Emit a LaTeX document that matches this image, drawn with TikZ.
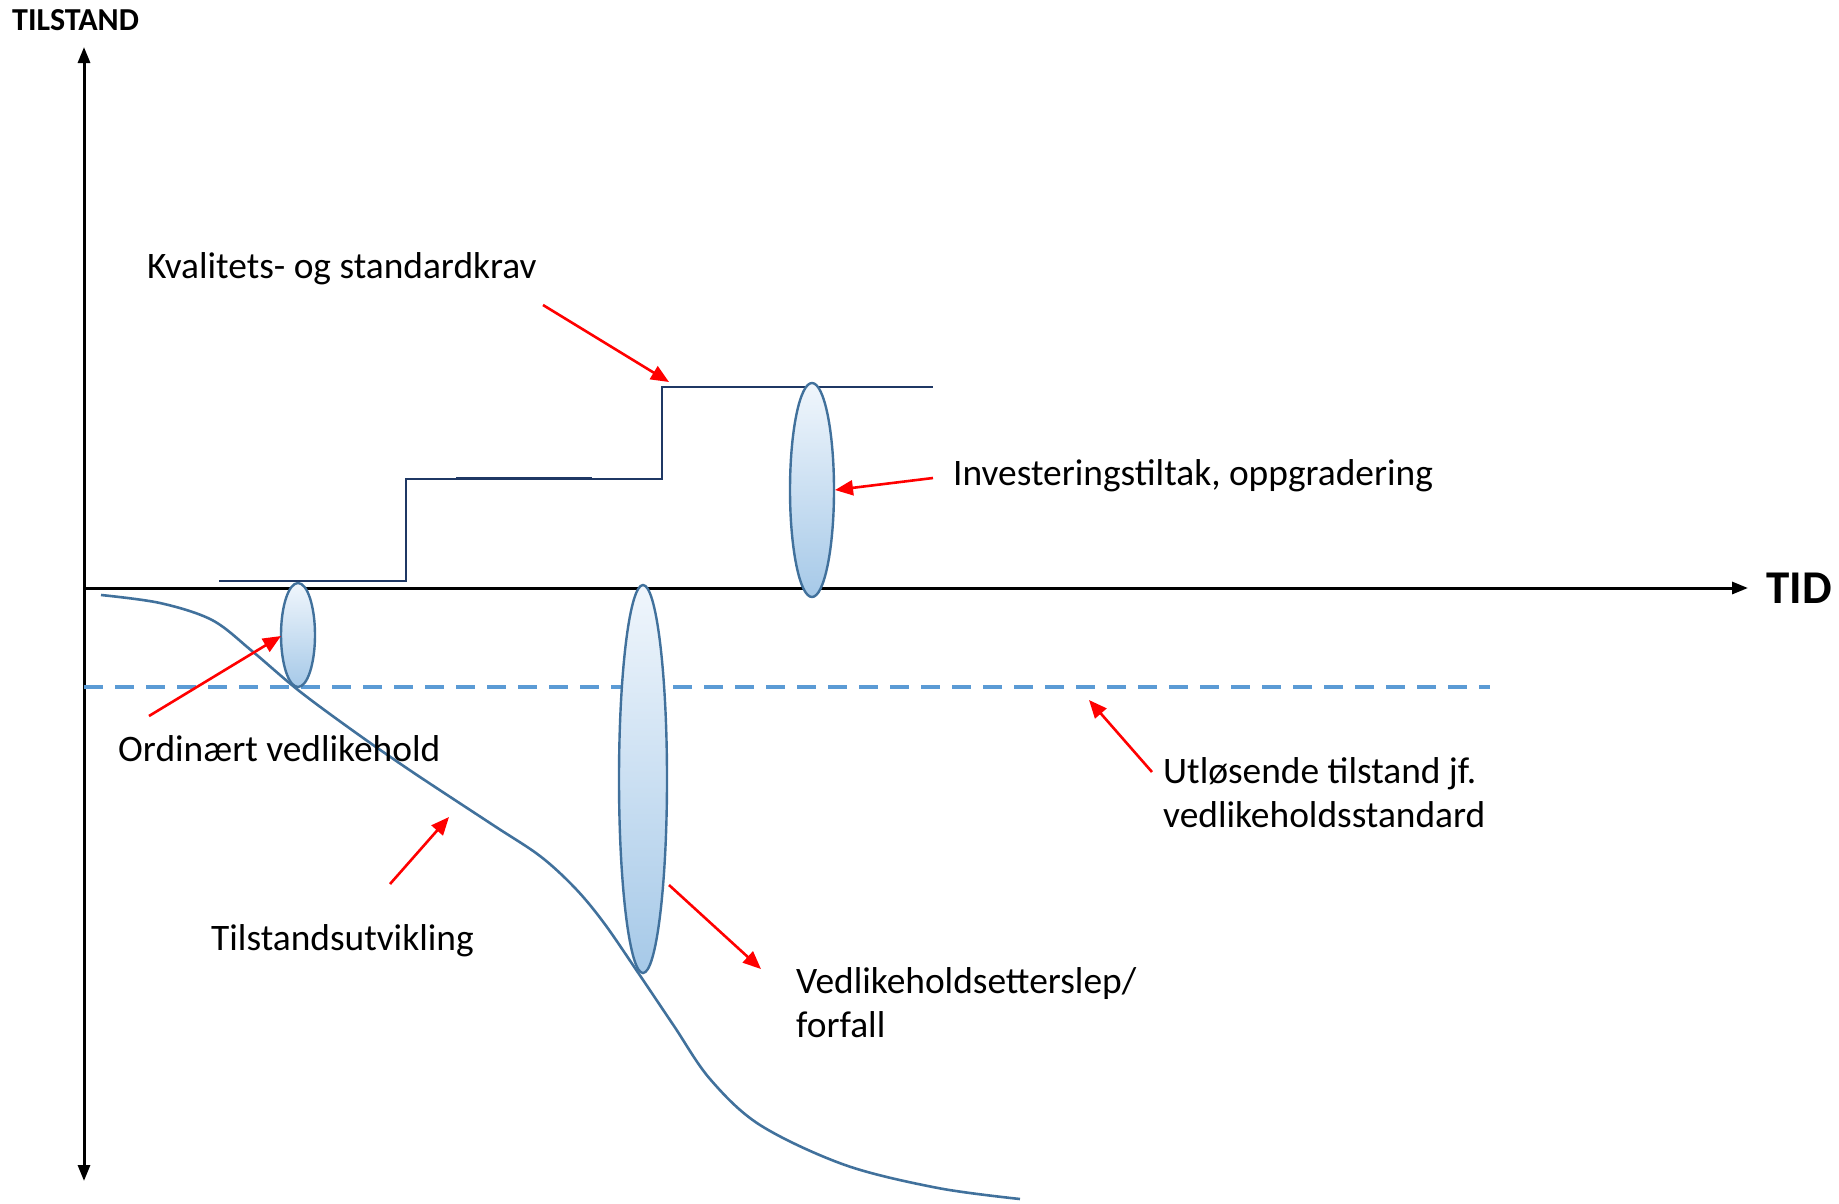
\documentclass[tikz,border=0pt]{standalone}
\usepackage{fontspec}
\setmainfont{Carlito}
\usetikzlibrary{arrows.meta,shapes.geometric}
\definecolor{curveblue}{RGB}{65,113,156}
\definecolor{stepnavy}{RGB}{31,56,100}
\definecolor{dashblue}{RGB}{91,155,213}
\definecolor{elltop}{RGB}{240,246,252}
\definecolor{ellbot}{RGB}{166,201,232}
\begin{document}
\begin{tikzpicture}[x=1pt,y=-1pt,
  axis/.style={line width=3pt,-{Triangle[length=16pt,width=12pt]}},
  redarrow/.style={draw=red,line width=2.6pt,-{Triangle[length=18pt,width=15pt]}},
  lbl/.style={anchor=base west,inner sep=0pt,font=\fontsize{37.4}{44}\selectfont},
  ell/.style={ellipse,draw=curveblue,line width=2.4pt,top color=elltop,bottom color=ellbot,inner sep=0pt},
  stepline/.style={draw=stepnavy,line width=1.6pt},
  tcurve/.style={draw=curveblue,line width=2.6pt},
]
\useasboundingbox (0,0) rectangle (1839,1203);

% axes
\coordinate (origin) at (84,588);
\coordinate (ytop) at (84,47);
\coordinate (ybot) at (84,1181);
\coordinate (xend) at (1748,588);
\draw[axis] (origin) -- (ytop);
\draw[axis] (origin) -- (ybot);
\draw[axis] (origin) -- (xend);
\node[anchor=base west,inner sep=0pt,font=\fontsize{32}{38}\selectfont\bfseries] (ylabel) at (12,30) {TILSTAND};
\node[anchor=base west,inner sep=0pt,font=\fontsize{47}{56}\selectfont\bfseries] (xlabel) at (1766,603) {TID};

% dashed threshold
\coordinate (d1) at (84,687);
\coordinate (d2) at (1490,687);
\draw[dashblue,line width=4pt,dash pattern=on 19pt off 12pt] (d1) -- (d2);

% step line (quality requirement)
\coordinate (s0) at (219,581);
\coordinate (s1) at (406,581);
\coordinate (s2) at (406,479);
\coordinate (s3) at (662,479);
\coordinate (s4) at (662,387);
\coordinate (s5) at (933,387);
\draw[stepline] (s0) -- (s1) -- (s2) -- (s3) -- (s4) -- (s5);
\coordinate (o1) at (456,478);
\coordinate (o2) at (592,478);
\draw[stepline] (o1) -- (o2);

% condition curve
\draw[tcurve] plot[smooth,tension=0.55] coordinates {(101,595) (160,603) (212,620) (252,651) (298,690) (352,730) (411,771) (493,825) (540,856) (575,888) (604,923) (639,974) (674,1026) (710,1079) (760,1125) (845,1165) (938,1188) (1020,1199)};

% ellipses
\node[ell,minimum width=34pt,minimum height=104pt] (e1) at (298,635) {};
\node[ell,minimum width=48pt,minimum height=388pt] (e2) at (643,779) {};
\node[ell,minimum width=44pt,minimum height=214pt] (e3) at (812,490) {};

% labels
\node[lbl] (kval) at (147,278) {Kvalitets- og standardkrav};
\node[lbl] (inv) at (953,485) {Investeringstiltak, oppgradering};
\node[lbl] (ord) at (118,761) {Ordinært vedlikehold};
\node[lbl] (utl1) at (1163,783) {Utløsende tilstand jf.};
\node[lbl] (utl2) at (1163,827) {vedlikeholdsstandard};
\node[lbl] (tilst) at (211,950) {Tilstandsutvikling};
\node[lbl] (vedl1) at (796,993) {Vedlikeholdsetterslep/};
\node[lbl] (vedl2) at (796,1037) {forfall};

% red arrows
\coordinate (a1s) at (543,305); \coordinate (a1e) at (669,382);
\coordinate (a2s) at (933,478); \coordinate (a2e) at (835,490);
\coordinate (a3s) at (149,716); \coordinate (a3e) at (281,636);
\coordinate (a4s) at (1152,772); \coordinate (a4e) at (1089,700);
\coordinate (a5s) at (390,884); \coordinate (a5e) at (449,817);
\coordinate (a6s) at (669,885); \coordinate (a6e) at (761,969);
\draw[redarrow] (a1s) -- (a1e);
\draw[redarrow] (a2s) -- (a2e);
\draw[redarrow] (a3s) -- (a3e);
\draw[redarrow] (a4s) -- (a4e);
\draw[redarrow] (a5s) -- (a5e);
\draw[redarrow] (a6s) -- (a6e);
\end{tikzpicture}
\end{document}
